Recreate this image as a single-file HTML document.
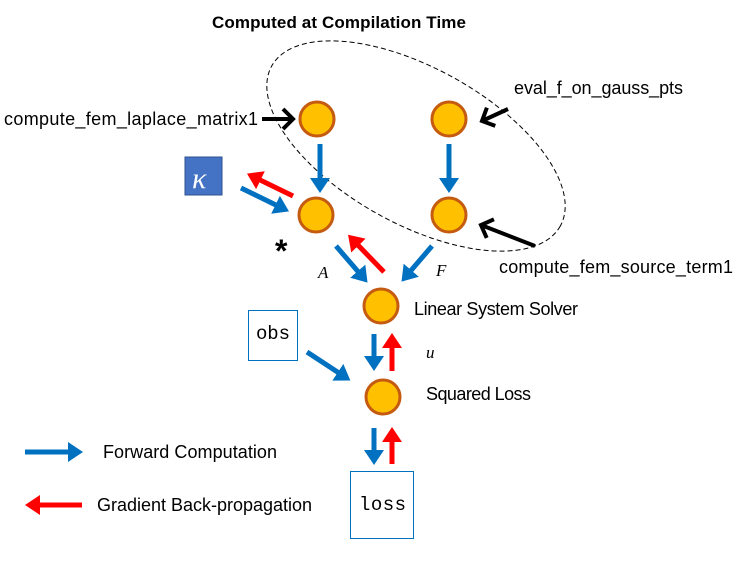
<!DOCTYPE html>
<html><head><style>
body{margin:0;background:#fff;}
svg text{font-family:"Liberation Sans",sans-serif;font-size:18px;fill:#000;}
</style></head><body>
<svg width="741" height="556" xmlns="http://www.w3.org/2000/svg">
<defs>
<marker id="hb" markerWidth="4" markerHeight="4" refX="1" refY="2" orient="auto" markerUnits="strokeWidth"><path d="M0,0 L3,2 L0,4 z" fill="#0070C0"/></marker>
<marker id="hr" markerWidth="4" markerHeight="4" refX="1" refY="2" orient="auto" markerUnits="strokeWidth"><path d="M0,0 L3,2 L0,4 z" fill="#FF0000"/></marker>
<marker id="hk" markerWidth="5" markerHeight="6" refX="3" refY="3" orient="auto" markerUnits="strokeWidth"><path d="M0.5,0.5 L3,3 L0.5,5.5" fill="none" stroke="#000" stroke-width="1"/></marker>
</defs>
<text x="212" y="28" textLength="254" style="font-weight:bold;font-size:17px">Computed at Compilation Time</text>
<ellipse cx="416" cy="146" rx="165" ry="78" transform="rotate(29 416 146)" fill="none" stroke="#000" stroke-width="1" stroke-dasharray="5,3"/>
<g fill="#FFC000" stroke="#C55A11" stroke-width="3">
<circle cx="317" cy="119" r="17"/><circle cx="449" cy="119" r="17"/>
<circle cx="316" cy="215" r="17"/><circle cx="449" cy="215" r="17"/>
<circle cx="381" cy="306" r="17"/><circle cx="383" cy="397" r="17"/>
</g>
<g stroke-width="4" fill="none">
<line x1="262" y1="119" x2="293" y2="119" stroke="#000" marker-end="url(#hk)"/>
<line x1="508" y1="109" x2="482" y2="121" stroke="#000" marker-end="url(#hk)"/>
<line x1="535" y1="246" x2="481" y2="225" stroke="#000" marker-end="url(#hk)"/>
<line x1="320" y1="144" x2="320" y2="183" stroke="#0070C0" stroke-width="5" marker-end="url(#hb)"/>
<line x1="449" y1="144" x2="449" y2="183" stroke="#0070C0" stroke-width="5" marker-end="url(#hb)"/>
<line x1="241" y1="188" x2="280" y2="207" stroke="#0070C0" stroke-width="5" marker-end="url(#hb)"/>
<line x1="293" y1="196" x2="256" y2="178" stroke="#FF0000" stroke-width="5" marker-end="url(#hr)"/>
<line x1="336" y1="246" x2="361" y2="275" stroke="#0070C0" stroke-width="5" marker-end="url(#hb)"/>
<line x1="384" y1="272" x2="355" y2="242" stroke="#FF0000" stroke-width="5" marker-end="url(#hr)"/>
<line x1="432" y1="246" x2="408" y2="274" stroke="#0070C0" stroke-width="5" marker-end="url(#hb)"/>
<line x1="374" y1="334" x2="374" y2="361" stroke="#0070C0" stroke-width="5" marker-end="url(#hb)"/>
<line x1="392" y1="371" x2="392" y2="343" stroke="#FF0000" stroke-width="5" marker-end="url(#hr)"/>
<line x1="307" y1="352" x2="342" y2="375" stroke="#0070C0" stroke-width="5" marker-end="url(#hb)"/>
<line x1="374" y1="428" x2="374" y2="455" stroke="#0070C0" stroke-width="5" marker-end="url(#hb)"/>
<line x1="392" y1="464" x2="392" y2="437" stroke="#FF0000" stroke-width="5" marker-end="url(#hr)"/>
<line x1="25" y1="452" x2="73" y2="452" stroke="#0070C0" stroke-width="5" marker-end="url(#hb)"/>
<line x1="82" y1="505" x2="35" y2="505" stroke="#FF0000" stroke-width="5" marker-end="url(#hr)"/>
</g>
<rect x="185" y="157" width="37" height="38" fill="#4472C4" stroke="#2F528F" stroke-width="1"/>
<text x="192" y="188" style="font-family:'Liberation Serif',serif;font-style:italic;font-size:30px;fill:#fff">κ</text>
<rect x="248.5" y="310.5" width="49" height="50" fill="#fff" stroke="#0070C0" stroke-width="1"/>
<text x="256" y="339" textLength="34" style="font-family:'Liberation Mono',monospace;font-size:19px">obs</text>
<rect x="350.5" y="471.5" width="63" height="67" fill="#fff" stroke="#0070C0" stroke-width="1"/>
<text x="359" y="510" textLength="47" style="font-family:'Liberation Mono',monospace;font-size:19px">loss</text>
<text x="4" y="125" textLength="254">compute_fem_laplace_matrix1</text>
<text x="514" y="94" textLength="169">eval_f_on_gauss_pts</text>
<text x="499" y="273" textLength="234">compute_fem_source_term1</text>
<text x="414" y="315" textLength="164">Linear System Solver</text>
<text x="426" y="400" textLength="105">Squared Loss</text>
<text x="103" y="458" textLength="174">Forward Computation</text>
<text x="97" y="511" textLength="215">Gradient Back-propagation</text>
<text x="275" y="262" style="font-size:32px;font-weight:bold">*</text>
<text x="318" y="278" style="font-family:'Liberation Serif',serif;font-style:italic;font-size:17px">A</text>
<text x="436" y="276" style="font-family:'Liberation Serif',serif;font-style:italic;font-size:17px">F</text>
<text x="426" y="358" style="font-family:'Liberation Serif',serif;font-style:italic;font-size:17px">u</text>
</svg>
</body></html>
